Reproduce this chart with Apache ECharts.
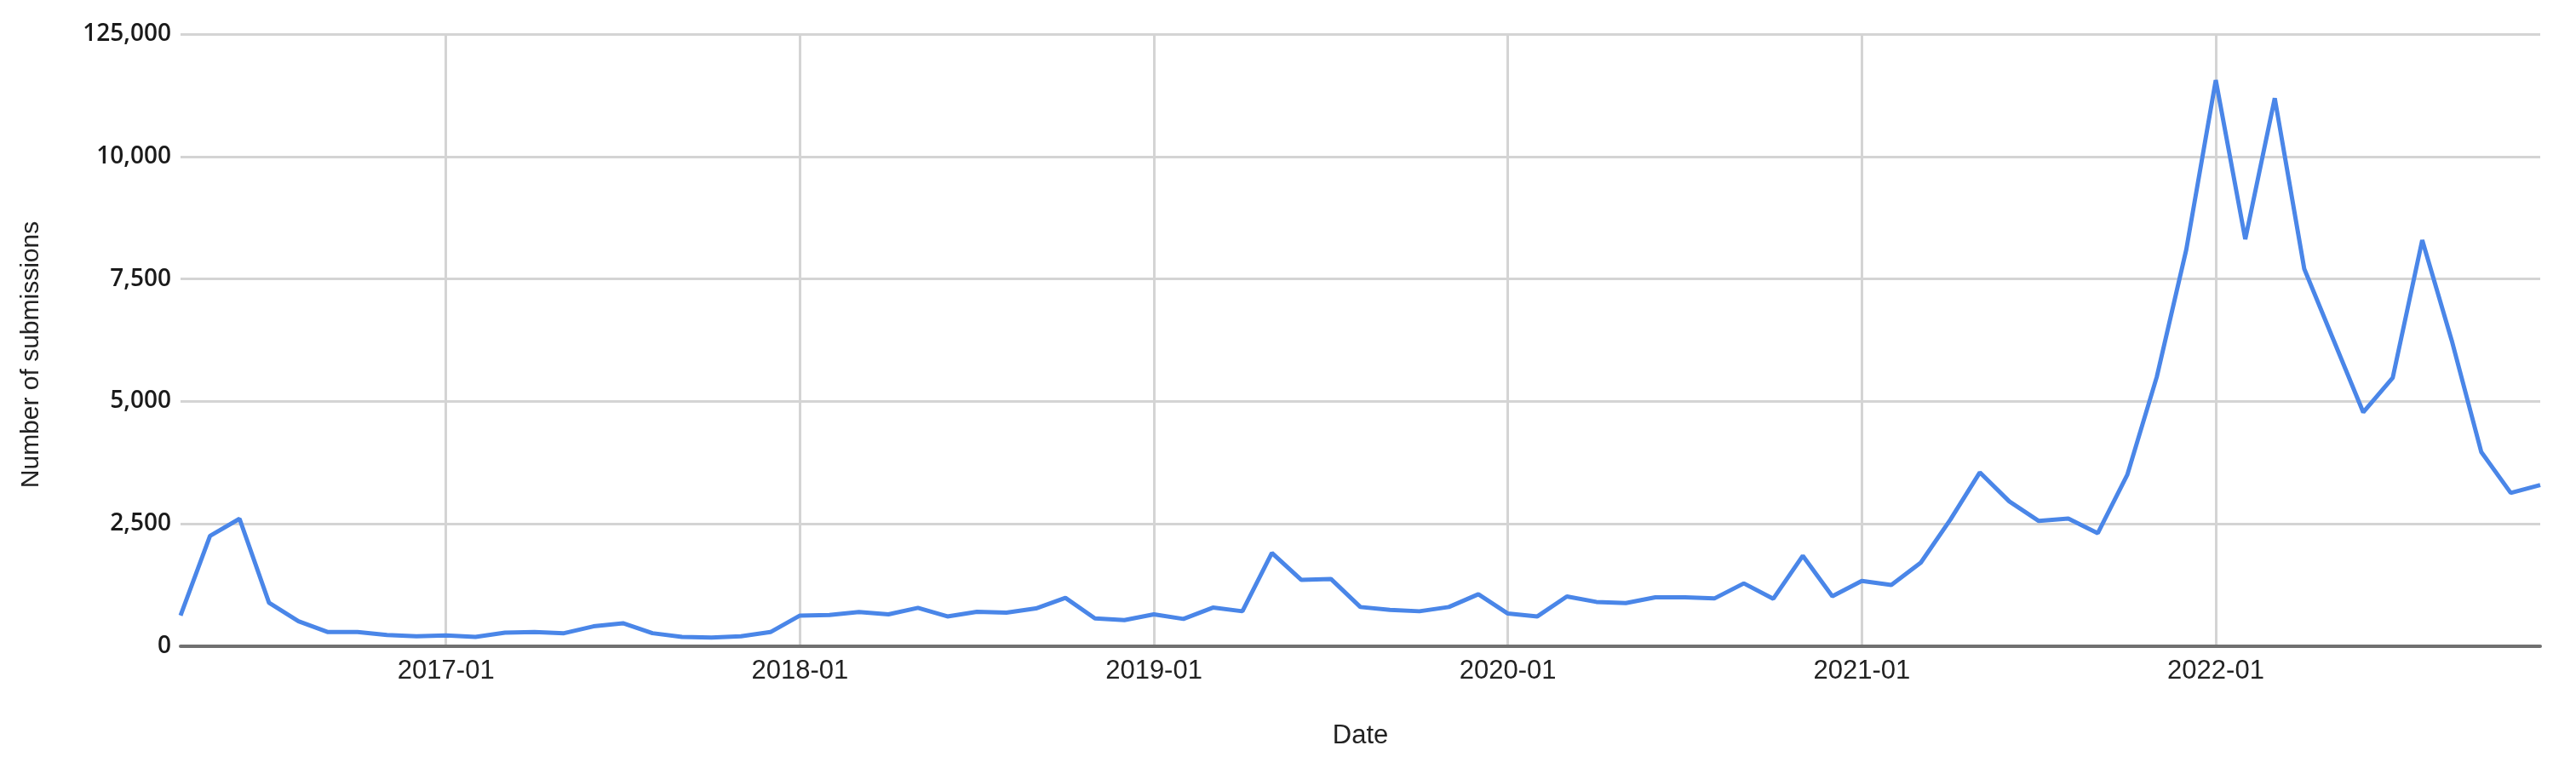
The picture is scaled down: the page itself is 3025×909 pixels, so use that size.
<!DOCTYPE html>
<html>
<head>
<meta charset="utf-8">
<script src="https://cdn.jsdelivr.net/npm/echarts@6/dist/echarts.min.js"></script>
<style>
  html, body { margin: 0; padding: 0; background: #fff; }
  #chart { width: 3025px; height: 909px; }
</style>
</head>
<body>
<div id="chart"></div>
<script>
// months, 2016-04 .. 2022-12
var months = [
  '2016-04','2016-05','2016-06','2016-07','2016-08','2016-09','2016-10','2016-11','2016-12',
  '2017-01','2017-02','2017-03','2017-04','2017-05','2017-06','2017-07','2017-08','2017-09','2017-10','2017-11','2017-12',
  '2018-01','2018-02','2018-03','2018-04','2018-05','2018-06','2018-07','2018-08','2018-09','2018-10','2018-11','2018-12',
  '2019-01','2019-02','2019-03','2019-04','2019-05','2019-06','2019-07','2019-08','2019-09','2019-10','2019-11','2019-12',
  '2020-01','2020-02','2020-03','2020-04','2020-05','2020-06','2020-07','2020-08','2020-09','2020-10','2020-11','2020-12',
  '2021-01','2021-02','2021-03','2021-04','2021-05','2021-06','2021-07','2021-08','2021-09','2021-10','2021-11','2021-12',
  '2022-01','2022-02','2022-03','2022-04','2022-05','2022-06','2022-07','2022-08','2022-09','2022-10','2022-11','2022-12'
];

// number of submissions per month
var submissions = [
  628, 2254, 2603, 889, 511, 290, 290, 232, 203,
  220, 192, 279, 290, 267, 407, 470, 267, 192, 180, 203, 290,
  628, 640, 698, 651, 785, 610, 703, 686, 773, 988, 570, 535,
  651, 558, 790, 715, 1906, 1354, 1375, 802, 744, 715, 802, 1063,
  668, 610, 1017, 906, 883, 1000, 1000, 976, 1284, 970, 1848, 1020,
  1333, 1250, 1708, 2583, 3550, 2958, 2558, 2608, 2308, 3500, 5500, 8100,
  11560, 8312, 11190, 7706, 6242, 4777, 5484, 8292, 6242, 3969, 3131, 3293
];

// y tick labels as printed on the original (top one included)
var yTickLabels = ['0', '2,500', '5,000', '7,500', '10,000', '125,000'];
var yStep = 2500;

var isJan = function (index, value) {
  return String(value).slice(5) === '01';
};

var myChart = echarts.init(document.getElementById('chart'));
var option = {
  backgroundColor: '#ffffff',
  animation: false,
  grid: {
    left: 212,
    right: 42,
    top: 40,
    bottom: 150,
    containLabel: false
  },
  xAxis: {
    type: 'category',
    data: months,
    boundaryGap: false,
    name: 'Date',
    nameLocation: 'middle',
    nameGap: 90,
    nameTextStyle: {
      fontFamily: 'Liberation Sans',
      fontSize: 31,
      color: '#222'
    },
    axisLine: {
      lineStyle: { color: '#707070', width: 4 }
    },
    axisTick: { show: false },
    axisLabel: {
      interval: isJan,
      margin: 14,
      fontFamily: 'Liberation Sans',
      fontSize: 31,
      color: '#222'
    },
    splitLine: {
      show: true,
      interval: isJan,
      lineStyle: { color: '#d4d4d4', width: 3 }
    }
  },
  yAxis: {
    type: 'value',
    min: 0,
    max: 12500,
    interval: yStep,
    name: 'Number of submissions',
    nameLocation: 'middle',
    nameGap: 160,
    nameTextStyle: {
      fontFamily: 'Liberation Sans',
      fontSize: 30,
      color: '#222',
      padding: [0, 34, 0, 0]
    },
    axisLine: { show: false },
    axisTick: { show: false },
    axisLabel: {
      margin: 11,
      align: 'right',
      fontFamily: 'Open Sans',
      fontWeight: 600,
      fontSize: 28,
      color: '#1a1a1a',
      formatter: function (v) {
        return yTickLabels[Math.round(v / yStep)];
      }
    },
    splitLine: {
      lineStyle: { color: '#d4d4d4', width: 3 }
    }
  },
  series: [{
    type: 'line',
    data: submissions,
    showSymbol: false,
    lineStyle: { color: '#4a86e8', width: 5 },
    itemStyle: { color: '#4a86e8' }
  }]
};
myChart.setOption(option);
</script>
</body>
</html>
